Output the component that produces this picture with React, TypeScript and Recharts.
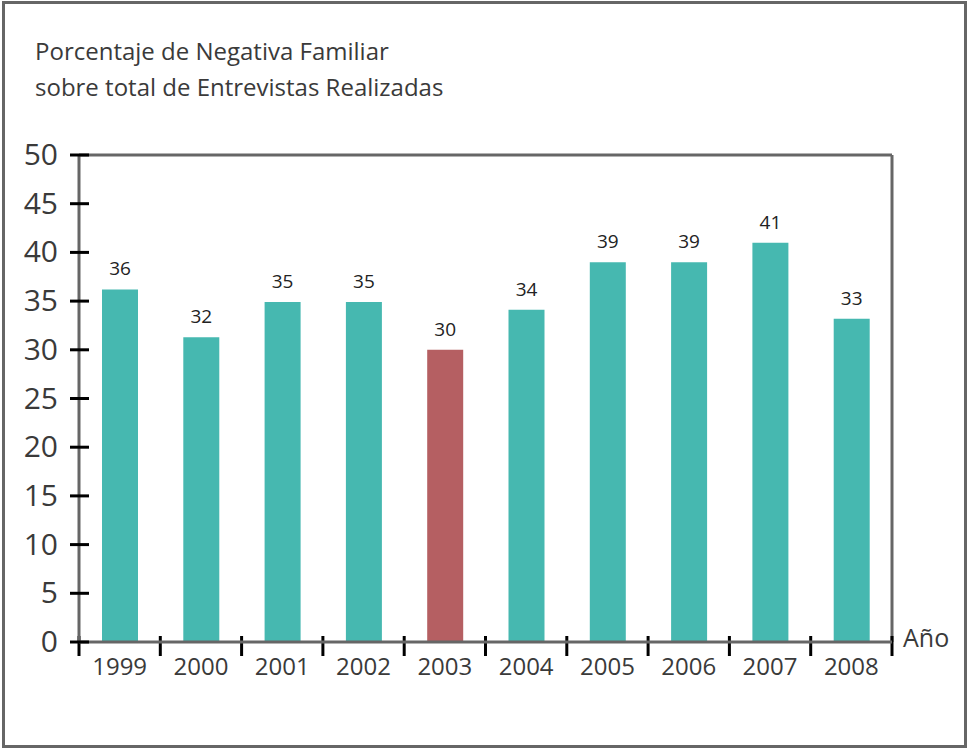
import { Bar, BarChart, Cell, LabelList, ReferenceLine, XAxis, YAxis } from "recharts";

const years = ["1999", "2000", "2001", "2002", "2003", "2004", "2005", "2006", "2007", "2008"];
const shares = [36.2, 31.3, 34.9, 34.9, 30.0, 34.1, 39.0, 39.0, 41.0, 33.2];
const shownValues = ["36", "32", "35", "35", "30", "34", "39", "39", "41", "33"];
const yTicks = [0, 5, 10, 15, 20, 25, 30, 35, 40, 45, 50];
const slotEdges = [0, 1, 2, 3, 4, 5, 6, 7, 8, 9, 10];
const highlightYear = "2003";

const TEAL = "#46b8b0";
const RED = "#b55f62";
const FRAME = "#666666";
const INK = "#3a3a3a";
const FONT = "'Open Sans', 'Noto Sans', sans-serif";

const W = 969;
const H = 750;
const PLOT_LEFT = 79;
const PLOT_TOP = 155;
const PLOT_RIGHT = 892;
const PLOT_BOTTOM = 642;

const data = years.map((year, i) => ({
  year,
  share: shares[i],
  shown: shownValues[i],
  slot: i,
}));

function YTick({ y, payload }: any) {
  return (
    <g>
      <line x1={PLOT_LEFT - 9} x2={PLOT_LEFT + 10} y1={y} y2={y} stroke="#000" strokeWidth={3} />
      <text x={PLOT_LEFT - 21} y={y + 10} textAnchor="end" fontFamily={FONT} fontSize={30} fill={INK}>
        {payload.value}
      </text>
    </g>
  );
}

function YearTick({ x, payload }: any) {
  return (
    <text x={x} y={675} textAnchor="middle" fontFamily={FONT} fontSize={24} fill={INK}>
      {payload.value}
    </text>
  );
}

// short black mark across the x axis at each category boundary
function EdgeMark({ x1 }: any) {
  return <line x1={x1} x2={x1} y1={PLOT_BOTTOM - 6} y2={PLOT_BOTTOM + 14} stroke="#000" strokeWidth={3} />;
}

function ValueLabel({ x, y, width, value }: any) {
  return (
    <text x={x + width / 2} y={y - 14} textAnchor="middle" fontFamily={FONT} fontSize={19} fill="#222">
      {value}
    </text>
  );
}

export default function App() {
  return (
    <div style={{ position: "absolute", left: 0, top: 0, width: W, height: H, background: "#fff" }}>
      <div
        style={{
          position: "absolute",
          left: 2,
          top: 1,
          width: 965,
          height: 747,
          border: `3px solid ${FRAME}`,
          boxSizing: "border-box",
        }}
      />
      <div
        style={{
          position: "absolute",
          left: 35,
          top: 33,
          fontFamily: FONT,
          fontSize: 24,
          lineHeight: "36px",
          color: INK,
          whiteSpace: "nowrap",
        }}
      >
        <div>Porcentaje de Negativa Familiar</div>
        <div>sobre total de Entrevistas Realizadas</div>
      </div>
      <div
        style={{
          position: "absolute",
          left: 903,
          top: 622,
          fontFamily: FONT,
          fontSize: 25,
          lineHeight: "30px",
          color: INK,
        }}
      >
        Año
      </div>
      <BarChart
        width={W}
        height={H}
        data={data}
        margin={{ top: PLOT_TOP, right: W - PLOT_RIGHT, bottom: H - PLOT_BOTTOM - 40, left: 0 }}
        style={{ position: "absolute", left: 0, top: 0 }}
      >
        <XAxis
          dataKey="year"
          height={40}
          axisLine={{ stroke: FRAME, strokeWidth: 3 }}
          tickLine={false}
          tick={<YearTick />}
          interval={0}
        />
        <XAxis
          xAxisId="edge"
          type="number"
          dataKey="slot"
          orientation="top"
          height={0}
          domain={[0, years.length]}
          ticks={slotEdges}
          axisLine={false}
          tickLine={false}
          tick={false}
        />
        <YAxis
          width={PLOT_LEFT}
          domain={[0, 50]}
          ticks={yTicks}
          axisLine={{ stroke: FRAME, strokeWidth: 3 }}
          tickLine={false}
          tick={<YTick />}
          interval={0}
        />
        <ReferenceLine y={50} stroke={FRAME} strokeWidth={3} />
        <ReferenceLine x={years.length} xAxisId="edge" stroke={FRAME} strokeWidth={3} />
        <Bar dataKey="share" barSize={36} isAnimationActive={false}>
          {data.map((d) => (
            <Cell key={d.year} fill={d.year === highlightYear ? RED : TEAL} />
          ))}
          <LabelList dataKey="shown" content={<ValueLabel />} />
        </Bar>
        {slotEdges.map((edge) => (
          <ReferenceLine key={edge} x={edge} xAxisId="edge" stroke="none" shape={<EdgeMark />} />
        ))}
      </BarChart>
    </div>
  );
}
